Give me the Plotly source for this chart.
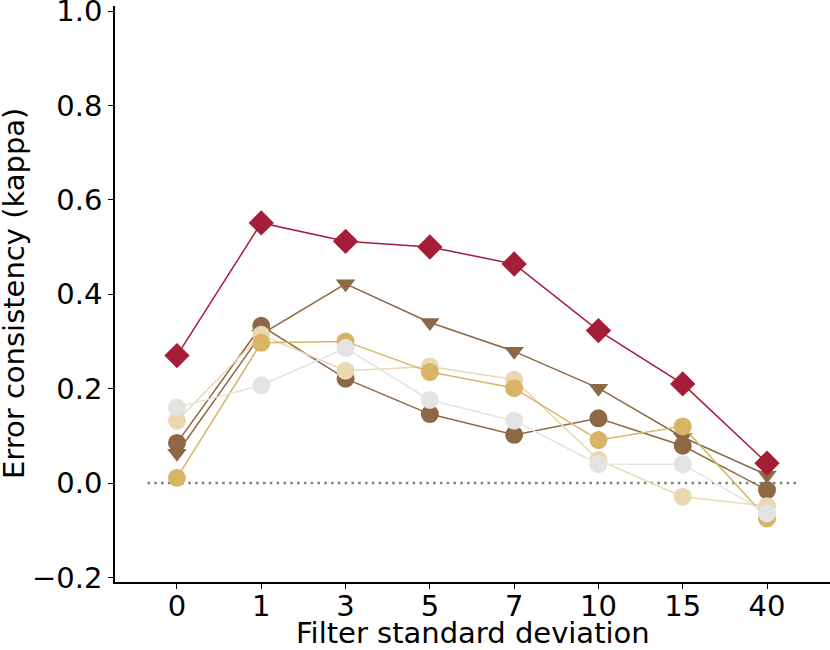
import plotly.graph_objects as go

categories = ["0", "1", "3", "5", "7", "10", "15", "40"]

red_diamond = [0.270, 0.551, 0.512, 0.500, 0.464, 0.323, 0.210, 0.042]
brown_triangle = [0.063, 0.315, 0.422, 0.340, 0.279, 0.201, 0.097, 0.017]
brown_circle = [0.085, 0.333, 0.221, 0.146, 0.102, 0.137, 0.079, -0.015]
tan_circle = [0.132, 0.314, 0.238, 0.247, 0.219, 0.049, -0.029, -0.049]
gold_circle = [0.011, 0.297, 0.300, 0.235, 0.201, 0.091, 0.120, -0.075]
grey_circle = [0.160, 0.207, 0.286, 0.176, 0.132, 0.040, 0.040, -0.064]

y_ticks = [-0.2, 0.0, 0.2, 0.4, 0.6, 0.8, 1.0]
y_tick_labels = ["\u22120.2", "0.0", "0.2", "0.4", "0.6", "0.8", "1.0"]

x_title = "Filter standard deviation"
y_title = "Error consistency (kappa)"

RED = "#A51D37"
BROWN = "#8E6844"
TAN = "#EAD8B2"
GOLD = "#D7B466"
GREY = "#E3E3E3"

series = [
    ("triangle", brown_triangle, BROWN, "triangle-down", 17),
    ("brown", brown_circle, BROWN, "circle", 18),
    ("tan", tan_circle, TAN, "circle", 18),
    ("gold", gold_circle, GOLD, "circle", 18),
    ("grey", grey_circle, GREY, "circle", 18),
    ("red", red_diamond, RED, "diamond", 19.5),
]

fig = go.Figure()
for name, vals, col, sym, sz in series:
    fig.add_trace(go.Scatter(
        x=categories, y=vals, mode="lines+markers", name=name,
        line=dict(color=col, width=1.5),
        marker=dict(symbol=sym, size=sz, color=col, line=dict(width=0)),
        showlegend=False,
    ))

fig.add_shape(type="line", xref="x", yref="y",
              x0=-0.35, x1=len(categories) - 1 + 0.35, y0=0, y1=0,
              line=dict(color="#808080", width=2.5, dash="2.5px,4.3px"), layer="below")

font = dict(family="DejaVu Sans", size=29, color="black")
L, R, T, B = 115, 0, 6, 68
W, H = 830, 650

fig.update_layout(
    width=W, height=H,
    margin=dict(l=L, r=R, t=T, b=B, autoexpand=False),
    plot_bgcolor="white", paper_bgcolor="white",
    font=font,
    xaxis=dict(
        type="category", categoryorder="array", categoryarray=categories,
        range=[-0.735, 7.747], automargin=False,
        showline=True, linecolor="black", linewidth=1.5,
        ticks="outside", ticklen=5, tickwidth=1.2, tickcolor="black",
        showgrid=False, zeroline=False, ticklabeloverflow="allow",
        tickfont=font, ticklabelstandoff=-8,
    ),
    yaxis=dict(
        range=[-0.2097, 1.0106], automargin=False,
        tickvals=y_ticks, ticktext=y_tick_labels,
        showline=True, linecolor="black", linewidth=1.5,
        ticks="outside", ticklen=5, tickwidth=1.2, tickcolor="black",
        showgrid=False, zeroline=False, ticklabeloverflow="allow",
        tickfont=font,
    ),
    annotations=[
        dict(text=x_title, xref="paper", yref="paper", x=0.5, y=0,
             xanchor="center", yanchor="middle", yshift=-51,
             showarrow=False, font=font),
        dict(text=y_title, xref="paper", yref="paper", x=0, y=0.5,
             xanchor="center", yanchor="middle", xshift=-101, textangle=-90,
             showarrow=False, font=font),
    ],
)

fig.write_html("out.html", config={"displayModeBar": False},
               post_script="document.body.style.margin='0';document.body.style.overflow='hidden';")
